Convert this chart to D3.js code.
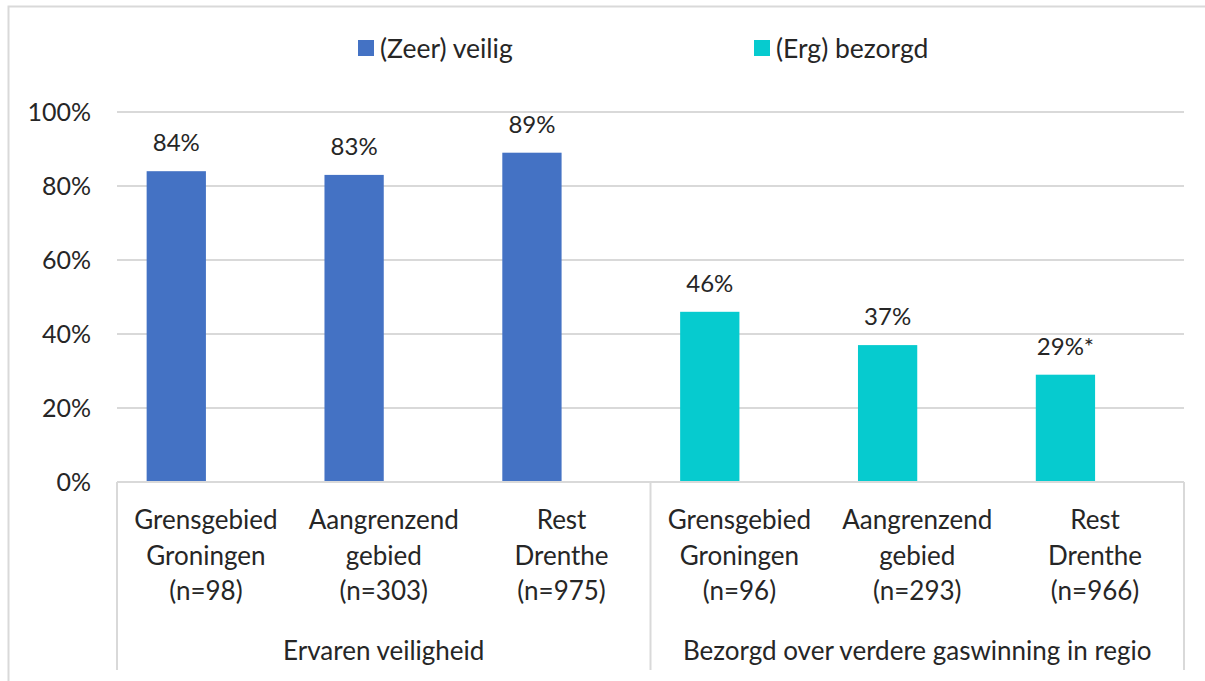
<!DOCTYPE html>
<html>
<head>
<meta charset="utf-8">
<script src="https://cdn.jsdelivr.net/npm/d3@7"></script>
<style>
  body { margin: 0; background: #fff; }
  svg { display: block; font-family: Lato, "Open Sans", sans-serif; }
  text { fill: #262626; }
</style>
</head>
<body>
<div id="chart"></div>
<script>
// data
var categories = [
  ["Grensgebied", "Groningen", "(n=98)"],
  ["Aangrenzend", "gebied", "(n=303)"],
  ["Rest", "Drenthe", "(n=975)"],
  ["Grensgebied", "Groningen", "(n=96)"],
  ["Aangrenzend", "gebied", "(n=293)"],
  ["Rest", "Drenthe", "(n=966)"]
];
var groups = ["Ervaren veiligheid", "Bezorgd over verdere gaswinning in regio"];
var seriesNames = ["(Zeer) veilig", "(Erg) bezorgd"];
var veilig = [84, 83, 89, null, null, null];
var bezorgd = [null, null, null, 46, 37, 29];
var labelNotes = ["", "", "", "", "", "*"];
var yTicks = [0, 20, 40, 60, 80, 100];
var colors = ["#4472C4", "#06CBCF"];

var W = 1205, H = 681;
var margin = {top: 112, right: 21, bottom: 199, left: 117},
    width = W - margin.left - margin.right,
    height = H - margin.top - margin.bottom;

var svg = d3.select("#chart").append("svg")
  .attr("width", W)
  .attr("height", H);

// chart border
svg.append("rect")
  .attr("x", 8.5).attr("y", 6.5)
  .attr("width", W + 10).attr("height", H + 10)
  .attr("fill", "none")
  .attr("stroke", "#D9D9D9")
  .attr("stroke-width", 2);

var g = svg.append("g")
  .attr("transform", "translate(" + margin.left + "," + margin.top + ")");

var x = d3.scaleBand().domain(d3.range(categories.length)).range([0, width]).padding(0);
// bars sit in the left slot of each category (excel layout)
var xs = d3.scaleBand().domain([0, 1]).range([0, x.bandwidth()]).paddingInner(0).paddingOuter(0.5);
var y = d3.scaleLinear().domain([0, 100]).range([height, 0]);

// gridlines
g.selectAll(".grid").data(yTicks.slice(1)).enter().append("line")
  .attr("x1", 0).attr("x2", width)
  .attr("y1", function(d) { return y(d); })
  .attr("y2", function(d) { return y(d); })
  .attr("stroke", "#D9D9D9")
  .attr("stroke-width", 2);

// y labels
g.selectAll(".ylab").data(yTicks).enter().append("text")
  .attr("x", -26)
  .attr("y", function(d) { return y(d); })
  .attr("dy", "0.36em")
  .attr("text-anchor", "end")
  .style("font-size", "25px")
  .text(function(d) { return d + "%"; });

var series = [veilig, bezorgd];
series.forEach(function(vals, si) {
  var data = vals.map(function(v, i) { return {i: i, v: v}; })
    .filter(function(d) { return d.v !== null; });

  g.selectAll(".bar" + si).data(data).enter().append("rect")
    .attr("x", function(d) { return x(d.i) + xs(0); })
    .attr("width", xs.bandwidth())
    .attr("y", function(d) { return y(d.v); })
    .attr("height", function(d) { return height - y(d.v); })
    .attr("fill", colors[si]);

  g.selectAll(".val" + si).data(data).enter().append("text")
    .attr("x", function(d) { return x(d.i) + xs(0) + xs.bandwidth() / 2; })
    .attr("y", function(d) { return y(d.v) - 20; })
    .attr("text-anchor", "middle")
    .style("font-size", "24px")
    .text(function(d) { return d.v + "%" + labelNotes[d.i]; });
});

// category axis
var axisY = height;
g.append("line")
  .attr("x1", 0).attr("x2", width)
  .attr("y1", axisY).attr("y2", axisY)
  .attr("stroke", "#D9D9D9").attr("stroke-width", 2);

[0, 3, 6].forEach(function(i) {
  var xx = i < categories.length ? x(i) : width;
  g.append("line")
    .attr("x1", xx).attr("x2", xx)
    .attr("y1", axisY).attr("y2", 670 - margin.top)
    .attr("stroke", "#D9D9D9").attr("stroke-width", 2);
});

categories.forEach(function(lines, i) {
  var t = g.append("text")
    .attr("text-anchor", "middle")
    .attr("x", x(i) + x.bandwidth() / 2)
    .style("font-size", "26px");
  lines.forEach(function(l, k) {
    t.append("tspan")
      .attr("x", x(i) + x.bandwidth() / 2)
      .attr("y", axisY + 47 + k * 35.5)
      .text(l);
  });
});

groups.forEach(function(name, gi) {
  g.append("text")
    .attr("x", x(gi * 3) + x.bandwidth() * 1.5)
    .attr("y", 660 - margin.top)
    .attr("text-anchor", "middle")
    .style("font-size", "26px")
    .text(name);
});

// legend
var legendX = [358, 754];
seriesNames.forEach(function(name, si) {
  var lg = svg.append("g").attr("transform", "translate(" + legendX[si] + ",40)");
  lg.append("rect").attr("width", 16).attr("height", 16).attr("fill", colors[si]);
  lg.append("text")
    .attr("x", 22).attr("y", 8).attr("dy", "0.36em")
    .style("font-size", "26.5px")
    .text(name);
});
</script>
</body>
</html>
